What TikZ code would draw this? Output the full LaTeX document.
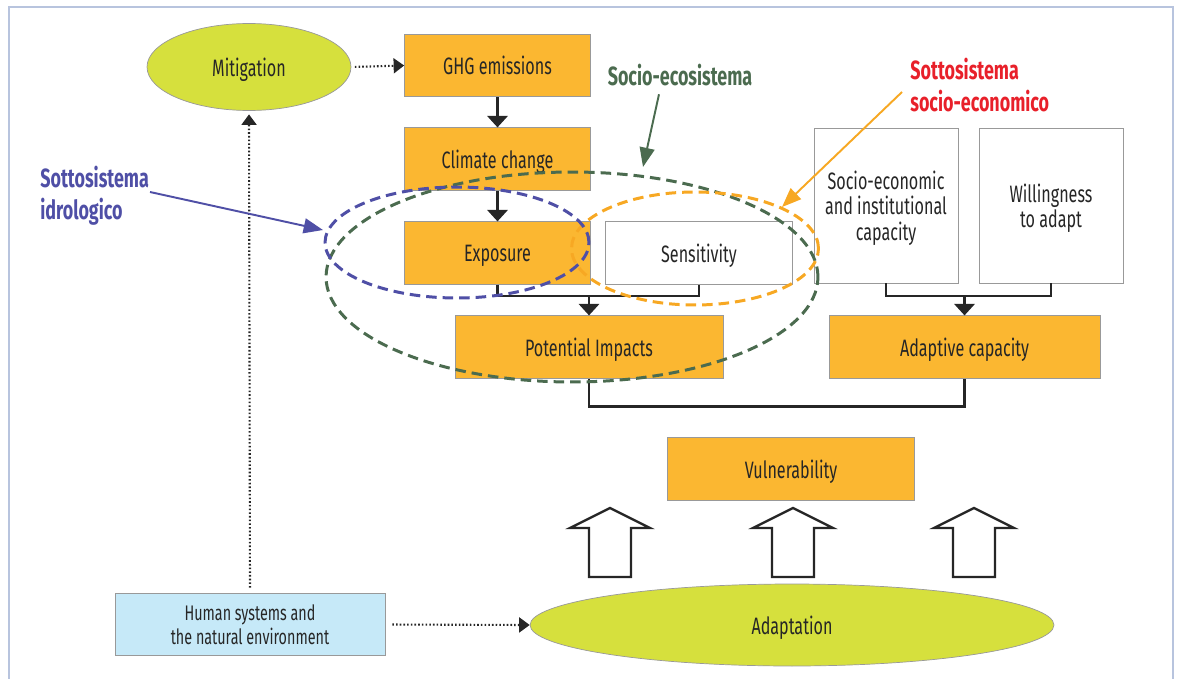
\documentclass[tikz,border=0pt]{standalone}
\usepackage{fontspec}
\setmainfont{Fira Sans}[FakeStretch=0.68]
\usetikzlibrary{arrows.meta,shapes.geometric}

\definecolor{boxorange}{HTML}{FBB731}
\definecolor{limefill}{HTML}{D6E03D}
\definecolor{skyfill}{HTML}{C6E9F8}
\definecolor{ecogreen}{HTML}{4B6B4F}
\definecolor{hydroblue}{HTML}{4F4FA6}
\definecolor{socorange}{HTML}{F7A823}
\definecolor{labelred}{HTML}{E8202A}
\definecolor{framegray}{HTML}{B8C4DE}

\tikzset{
	box/.style={draw=black!40, fill=boxorange, minimum width=3.72cm, minimum height=1.25cm,
		inner sep=0pt, text depth=0pt, align=center, text=black!85, font=\fontsize{13.5}{14.5}\selectfont},
	whitebox/.style={box, fill=white},
	blob/.style={ellipse, draw=black!40, fill=limefill, inner sep=0pt, text depth=0pt, text=black!85,
		font=\fontsize{13.5}{14.5}\selectfont},
	flow/.style={line width=1.3pt, black!85, -{Triangle[width=11.5pt,length=6.5pt]}},
	joint/.style={line width=1.3pt, black!85},
	dotflow/.style={line width=1.2pt, black!85, dash pattern=on 0.9pt off 1.2pt,
		-{Triangle[width=8.5pt,length=6pt]}},
	ring/.style={line width=1.7pt, dash pattern=on 6pt off 3.4pt},
	pointer/.style={line width=1.1pt, -{Triangle[width=8.5pt,length=11pt]}},
	tag/.style={font=\bfseries\fontsize{15}{18}\selectfont, inner sep=0pt, align=left},
	hollow/.style={draw=black!85, fill=white, line width=1.3pt, line join=miter}
}

\begin{document}
\begin{tikzpicture}[x=0.02cm, y=-0.02cm]
	\useasboundingbox (0,0) rectangle (1179,679);
	\draw[framegray, line width=0.8pt] (9,679) -- (9,7) -- (1173,7) -- (1173,679); % frame

	% boxes
	\node[blob, minimum width=4.08cm, minimum height=1.74cm] (mitigation) at (249,67) {Mitigation};
	\node[box] (ghg) at (497.5,65.5) {GHG emissions};
	\node[box] (climate) at (497.5,159) {Climate change};
	\node[box] (exposure) at (497.5,253) {Exposure};
	\node[whitebox, minimum width=3.74cm] (sensitivity) at (699,253) {Sensitivity};
	\node[box, minimum width=5.36cm] (impacts) at (589,347) {Potential Impacts};
	\node[whitebox, minimum width=2.88cm, minimum height=3.1cm] (socioecon) at (886,205.5)
		{Socio-economic\\and institutional\\capacity};
	\node[whitebox, minimum width=2.88cm, minimum height=3.1cm] (willing) at (1051,205.5)
		{Willingness\\to adapt};
	\node[box, minimum width=5.42cm] (adaptcap) at (964.5,347) {Adaptive capacity};
	\node[box, minimum width=4.94cm] (vulnerability) at (791,469) {Vulnerability};
	\node[blob, minimum width=10.48cm, minimum height=1.64cm] (adaptation) at (792,625) {Adaptation};
	\node[box, fill=skyfill, minimum width=5.4cm, font=\fontsize{12}{13.5}\selectfont] (human) at (250,624.5)
		{Human systems and\\the natural environment};

	% black connectors
	\draw[flow] (ghg) -- (climate);
	\draw[flow] (climate) -- (exposure);
	\coordinate (forkA) at (589,296);
	\draw[joint] (exposure.south) |- (forkA) -| (sensitivity.south);
	\draw[flow] (forkA) -- (impacts.north);
	\coordinate (forkB) at (964.5,296);
	\draw[joint] (socioecon.south) |- (forkB) -| (willing.south);
	\draw[flow] (forkB) -- (adaptcap.north);
	\draw[joint] (impacts.south) -- ++(0,28) -| (adaptcap.south);

	% dotted connectors
	\draw[dotflow, shorten <=2pt] (mitigation.east) -- (ghg.west);
	\draw[dotflow, shorten <=3pt, shorten >=2pt] (human.north) -- (mitigation.south);
	\draw[dotflow, shorten <=4pt] (human.east) -- (adaptation.west);

	% hollow arrows
	\foreach \ax in {610,793,974} {
		\draw[hollow] ({\ax-21},577) -- ({\ax-21},528) -- ({\ax-40},528) -- (\ax,508)
			-- ({\ax+40},528) -- ({\ax+21},528) -- ({\ax+21},577) -- cycle;
	}

	% subsystem rings
	\draw[ring, ecogreen] (572,277) ellipse [x radius=4.92cm, y radius=2.1cm];
	\draw[ring, socorange] (695,248.5) ellipse [x radius=2.47cm, y radius=1.13cm];
	\draw[ring, hydroblue] (457,242.5) ellipse [x radius=2.64cm, y radius=1.11cm];

	% labels
	\node[tag, text=ecogreen] (lblEco) at (680,75) {Socio-ecosistema};
	\node[tag, text=labelred, anchor=north west] (lblSocio) at (910,58) {Sottosistema\\socio-economico};
	\node[tag, text=hydroblue, anchor=north west] (lblHydro) at (40,166) {Sottosistema\\idrologico};
	\coordinate (ecoTip) at (643,167);
	\coordinate (socioTail) at (902,92);
	\coordinate (socioTip) at (782,207);
	\coordinate (hydroTail) at (150,192);
	\coordinate (hydroTip) at (323,230);
	\draw[pointer, ecogreen] (lblEco.south -| 659,0) ++(0,8) -- (ecoTip);
	\draw[pointer, socorange] (socioTail) -- (socioTip);
	\draw[pointer, hydroblue] (hydroTail) -- (hydroTip);
\end{tikzpicture}
\end{document}
